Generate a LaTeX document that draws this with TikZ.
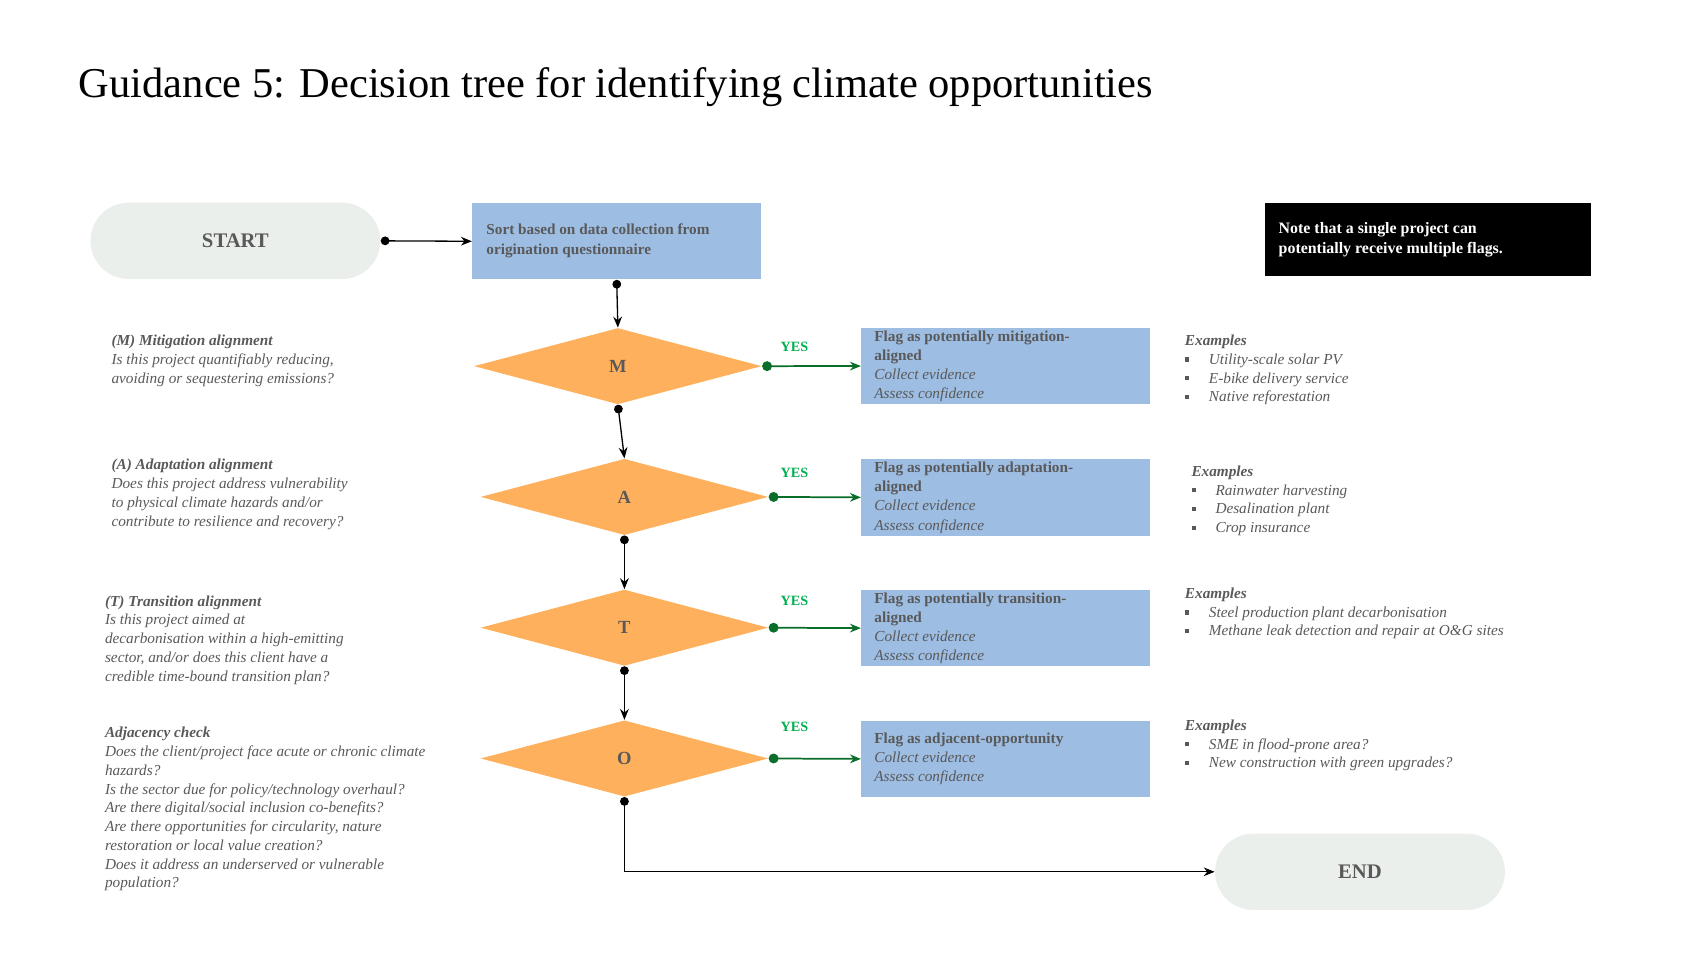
\documentclass[tikz,border=0pt]{standalone}
\usepackage{fontspec}
\setmainfont{Liberation Serif}
\usetikzlibrary{shapes.geometric,arrows.meta}
\definecolor{txt}{HTML}{595959}
\definecolor{org}{HTML}{FFB05C}
\definecolor{blu}{HTML}{9DBDE3}
\definecolor{pill}{HTML}{EBEFEC}
\definecolor{ygrn}{HTML}{00B050}
\definecolor{dgrn}{HTML}{0A6E2A}
\newcommand{\bx}{\makebox[11pt][l]{\raisebox{1.2pt}{\rule{2pt}{2pt}}}}
\begin{document}
\begin{tikzpicture}[x=0.5pt,y=-0.5pt,
  body/.style={anchor=north west,align=left,inner sep=0pt,text=txt,font=\fontsize{7}{8.6}\selectfont\itshape},
  term/.style={rounded corners=17.5pt,fill=pill,minimum width=133pt,minimum height=35pt,inner sep=0pt,text=txt,font=\fontsize{9.5}{11}\selectfont\bfseries},
  box/.style={fill=blu,minimum width=132.5pt,minimum height=35pt,inner sep=0pt},
  dia/.style={diamond,fill=org,aspect=3.75,minimum width=132pt,minimum height=35pt,inner sep=0pt,text=txt,font=\fontsize{8.5}{10}\selectfont\bfseries},
  flow/.style={draw=black,line width=0.6pt,{Circle[length=4pt]}-{Stealth[length=5pt,width=4pt]}},
  yflow/.style={draw=dgrn,line width=0.8pt,{Circle[length=4.5pt]}-{Stealth[length=5pt,width=4pt]}},
  yes/.style={text=ygrn,font=\fontsize{6.5}{8}\selectfont\bfseries,inner sep=0pt},
  flagtxt/.style={anchor=north west,align=left,inner sep=0pt,text=txt,font=\fontsize{7}{8.8}\selectfont\bfseries}
]
\useasboundingbox (0,0) rectangle (1560,878);
\node[anchor=west,inner sep=0pt,font=\fontsize{19.5}{22}\selectfont,text=black] (title) at (72,80) {Guidance 5: Decision tree for identifying climate opportunities};

\node[term] (start) at (216,221) {START};
\node[box,anchor=north west] (sort) at (433,186) {};
\node[flagtxt,anchor=west] (sorttxt) at (446,221) {Sort based on data collection from\\origination questionnaire};
\node[fill=black,minimum width=150pt,minimum height=33.5pt,anchor=north west] (note) at (1160,186) {};
\node[anchor=west,align=left,inner sep=0pt,text=white,font=\fontsize{7.3}{9.6}\selectfont\bfseries] (notetxt) at (1173,220) {Note that a single project can\\potentially receive multiple flags.};

\node[dia] (M) at (567,336) {M};
\node[dia] (A) at (573,456) {A};
\node[dia] (T) at (573,576) {T};
\node[dia] (O) at (573,696) {O};

\node[box,anchor=north west] (fM) at (790,300.5) {};
\node[box,anchor=north west] (fA) at (790,421) {};
\node[box,anchor=north west] (fT) at (790,541) {};
\node[box,anchor=north west] (fO) at (790,661) {};

\node[flagtxt] (fMt) at (802,303) {Flag as potentially mitigation-\\aligned\\\mdseries\itshape Collect evidence\\\mdseries\itshape Assess confidence};
\node[flagtxt] (fAt) at (802,423.5) {Flag as potentially adaptation-\\aligned\\\mdseries\itshape Collect evidence\\\mdseries\itshape Assess confidence};
\node[flagtxt] (fTt) at (802,543.5) {Flag as potentially transition-\\aligned\\\mdseries\itshape Collect evidence\\\mdseries\itshape Assess confidence};
\node[flagtxt] (fOt) at (802,672) {Flag as adjacent-opportunity\\\mdseries\itshape Collect evidence\\\mdseries\itshape Assess confidence};

\node[yes] (yM) at (729,318) {YES};
\node[yes] (yA) at (729,434) {YES};
\node[yes] (yT) at (729,551) {YES};
\node[yes] (yO) at (729,667) {YES};

\node[term] (end) at (1248,800) {END};
\coordinate (corner) at (573,800);

\draw[flow] (start.east) -- (sort.west);
\draw[flow] (sort.south) -- (M.north);
\draw[flow] (M.south) -- (A.north);
\draw[flow] (A.south) -- (T.north);
\draw[flow] (T.south) -- (O.north);
\draw[flow] (O.south) -- (corner) -- (end.west);
\draw[yflow] (M.east) -- (fM.west);
\draw[yflow] (A.east) -- (fA.west);
\draw[yflow] (T.east) -- (fT.west);
\draw[yflow] (O.east) -- (fO.west);

\node[body] (qM) at (102,307) {\bfseries\itshape (M) Mitigation alignment\\Is this project quantifiably reducing,\\avoiding or sequestering emissions?};
\node[body] (qA) at (102,421) {\bfseries\itshape (A) Adaptation alignment\\Does this project address vulnerability\\to physical climate hazards and/or\\contribute to resilience and recovery?};
\node[body] (qT) at (96,546) {\bfseries\itshape (T) Transition alignment\\Is this project aimed at\\decarbonisation within a high-emitting\\sector, and/or does this client have a\\credible time-bound transition plan?};
\node[body] (qO) at (96,667) {\bfseries\itshape Adjacency check\\Does the client/project face acute or chronic climate\\hazards?\\Is the sector due for policy/technology overhaul?\\Are there digital/social inclusion co-benefits?\\Are there opportunities for circularity, nature\\restoration or local value creation?\\Does it address an underserved or vulnerable\\population?};

\node[body] (eM) at (1087,307) {\bfseries\itshape Examples\\\bx Utility-scale solar PV\\\bx E-bike delivery service\\\bx Native reforestation};
\node[body] (eA) at (1093,427) {\bfseries\itshape Examples\\\bx Rainwater harvesting\\\bx Desalination plant\\\bx Crop insurance};
\node[body] (eT) at (1087,539) {\bfseries\itshape Examples\\\bx Steel production plant decarbonisation\\\bx Methane leak detection and repair at O\&G sites};
\node[body] (eO) at (1087,660) {\bfseries\itshape Examples\\\bx SME in flood-prone area?\\\bx New construction with green upgrades?};
\end{tikzpicture}
\end{document}
